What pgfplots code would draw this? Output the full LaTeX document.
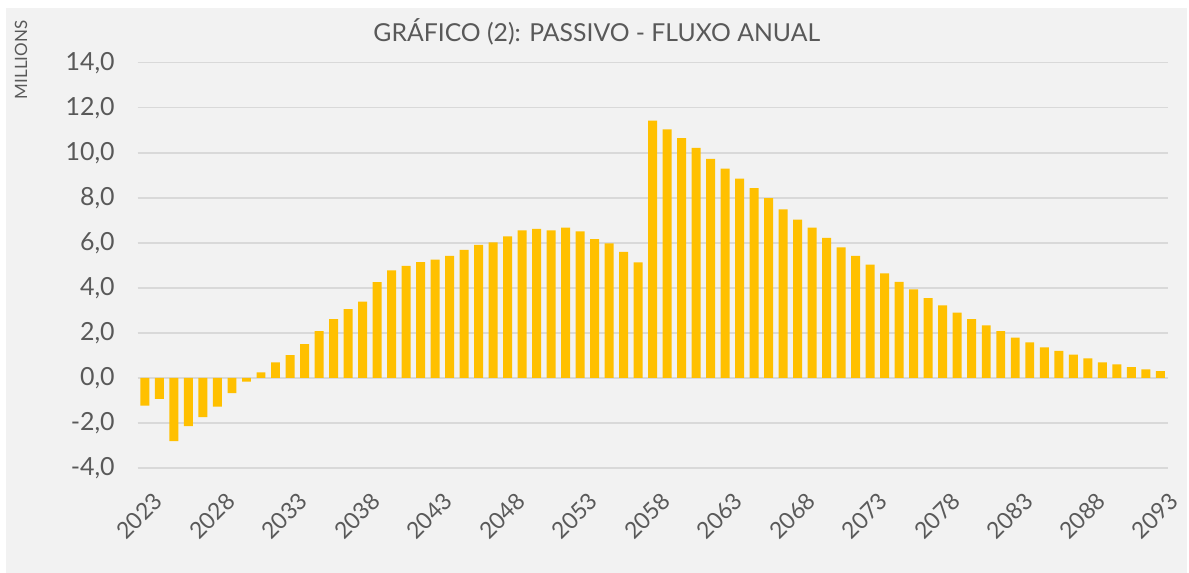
\documentclass[border=0pt]{standalone}
\usepackage{fontspec}
\setmainfont{Lato}
\usepackage{pgfplots}
\usepackage{pgfplotstable}
\pgfplotsset{compat=1.18}

\definecolor{bg}{HTML}{F2F2F2}
\definecolor{gold}{HTML}{FFC000}
\definecolor{txt}{HTML}{595959}
\definecolor{grd}{HTML}{D9D9D9}

% fluxo anual do passivo, em milhoes
\pgfplotstableread{
ano valor
2023 -1.23
2024 -0.93
2025 -2.81
2026 -2.14
2027 -1.74
2028 -1.27
2029 -0.67
2030 -0.16
2031 0.25
2032 0.69
2033 1.02
2034 1.51
2035 2.08
2036 2.61
2037 3.06
2038 3.39
2039 4.26
2040 4.78
2041 4.98
2042 5.15
2043 5.26
2044 5.42
2045 5.69
2046 5.91
2047 6.03
2048 6.29
2049 6.56
2050 6.62
2051 6.56
2052 6.68
2053 6.51
2054 6.17
2055 5.98
2056 5.60
2057 5.14
2058 11.43
2059 11.05
2060 10.66
2061 10.22
2062 9.73
2063 9.30
2064 8.86
2065 8.43
2066 7.99
2067 7.49
2068 7.04
2069 6.68
2070 6.23
2071 5.80
2072 5.42
2073 5.04
2074 4.65
2075 4.27
2076 3.94
2077 3.55
2078 3.23
2079 2.90
2080 2.62
2081 2.34
2082 2.08
2083 1.79
2084 1.58
2085 1.36
2086 1.20
2087 1.04
2088 0.87
2089 0.69
2090 0.60
2091 0.48
2092 0.38
2093 0.30
}\passivo

\begin{document}
\begin{tikzpicture}
  \fill[white] (0,0) rectangle (594.5pt,287pt);
  \fill[bg] (3pt,0) rectangle (594.5pt,283pt);
  \node[rotate=90, text=txt, font=\fontsize{8.5}{10}\selectfont] at (10.5pt,257pt) {MILLIONS};
  \node[anchor=base, text=txt, font=\fontsize{12.4}{14}\selectfont] at (299pt,266pt)
    {GRÁFICO (2): PASSIVO - FLUXO ANUAL};
  \begin{axis}[
    at={(69pt,52.5pt)}, anchor=south west,
    scale only axis,
    width=516pt, height=203pt,
    ybar, bar width=4.5pt,
    xmin=2022.5, xmax=2093.5,
    ymin=-4, ymax=14,
    ytick={-4,-2,...,14},
    xtick={2023,2028,...,2093},
    xticklabels={2023,2028,2033,2038,2043,2048,2053,2058,2063,2068,2073,2078,2083,2088,2093},
    axis line style={draw=none},
    major tick length=0pt,
    ymajorgrids,
    grid style={grd, line width=0.6pt},
    tick label style={text=txt},
    yticklabel style={font=\fontsize{12.5}{14}\selectfont,
      /pgf/number format/.cd, fixed, fixed zerofill, precision=1, use comma,
      assume math mode=true, /tikz/.cd, xshift=-8pt},
    xticklabel style={font=\fontsize{11.5}{13}\selectfont,
      rotate=45, anchor=east, yshift=-15pt, xshift=-2pt},
  ]
    \addplot[fill=gold, draw=none] table[x=ano, y=valor] {\passivo};
  \end{axis}
\end{tikzpicture}
\end{document}
